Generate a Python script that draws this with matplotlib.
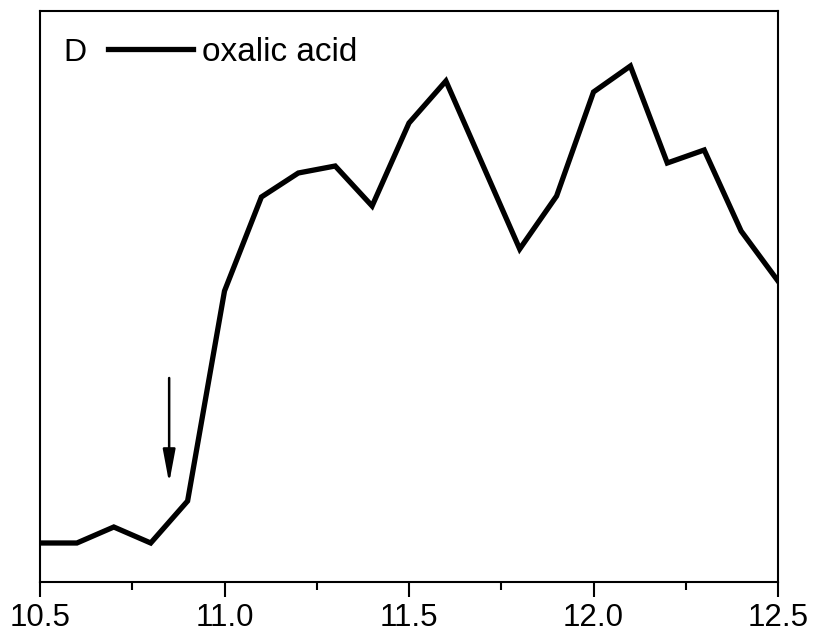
import matplotlib
matplotlib.use("Agg")
import matplotlib.pyplot as plt
from matplotlib.ticker import MultipleLocator

plt.rcParams['font.family'] = ['Liberation Sans', 'DejaVu Sans']

# data (arbitrary intensity units)
ph = [10.5, 10.6, 10.7, 10.8, 10.9, 11.0, 11.1, 11.2, 11.3, 11.4, 11.5,
      11.6, 11.7, 11.8, 11.9, 12.0, 12.1, 12.2, 12.3, 12.4, 12.5]
signal = [39, 39, 55, 39, 81, 291, 385, 409, 416, 376, 459,
          501, 417, 333, 386, 490, 516, 419, 432, 351, 301]
xticks = [10.5, 11.0, 11.5, 12.0, 12.5]
xticklabels = ['10.5', '11.0', '11.5', '12.0', '12.5']
arrow_x = 10.85
arrow_from = 204
arrow_to = 99

fig = plt.figure(figsize=(8.17, 6.32), dpi=100)
ax = fig.add_axes([40 / 817, 1 - 582 / 632, 738 / 817, 571 / 632])

ax.plot(ph, signal, color='black', linewidth=3.8, label='oxalic acid',
        solid_joinstyle='miter')
ax.annotate('', xy=(arrow_x, arrow_to), xytext=(arrow_x, arrow_from),
            arrowprops=dict(arrowstyle='-|>,head_length=0.8,head_width=0.15',
                            color='black', lw=1.8,
                            mutation_scale=25, shrinkA=0, shrinkB=0))

ax.set_xlim(10.5, 12.5)
ax.set_ylim(0, 571)
ax.set_xticks(xticks)
ax.set_xticklabels(xticklabels, fontsize=22.5)
ax.xaxis.set_minor_locator(MultipleLocator(0.25))
ax.tick_params(axis='x', which='major', direction='out', length=11, width=1.5, pad=4)
ax.tick_params(axis='x', which='minor', direction='out', length=6, width=1.5)
ax.set_yticks([])
for s in ax.spines.values():
    s.set_linewidth(1.5)

# panel letter, placed in pixels from the bottom-left of the figure
ax.text(63, 632 - 61, 'D', transform=None, fontsize=23, va='baseline', ha='left')
ax.legend(loc='upper left', bbox_to_anchor=(68 / 738, 1 - 26 / 571),
          frameon=False, fontsize=24, handlelength=2.55, handletextpad=0.28,
          borderaxespad=0, borderpad=0)

fig.savefig('out.png', dpi=100)
